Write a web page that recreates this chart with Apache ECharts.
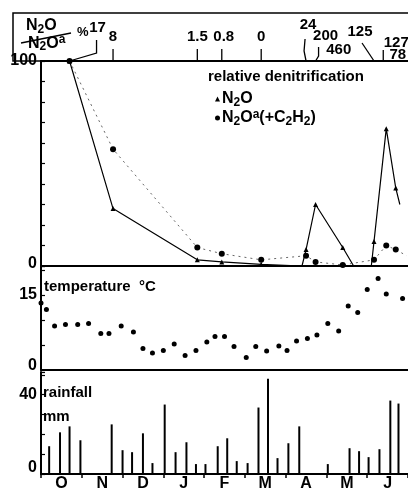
<!DOCTYPE html>
<html>
<head>
<meta charset="UTF-8">
<title>relative denitrification, temperature, rainfall</title>
<script src="https://cdn.jsdelivr.net/npm/echarts@6/dist/echarts.min.js"></script>
<style>
  html, body { margin: 0; padding: 0; background: #fff; }
  #chart { width: 408px; height: 492px; }
</style>
</head>
<body>
<div id="chart"></div>
<script>
// x values are days counted from 1 October
// sampling dates of the denitrification measurements
var sampleDays = [21, 53, 115, 133, 162, 195, 202, 222, 245, 254, 261];
var n2o = [100, 28, 3, 2, 0.8, 8, 30, 9, 12, 67, 38];
var n2oA = [100, 57, 9, 6, 3, 5, 2, 0.5, 3, 10, 8];
var ratioLabels = ['17', '8', '1.5', '0.8', '0', '24', '200', '460', '125', '127', '78'];

// extra corners of the traces (N2O running along zero, both running off the edge)
var n2oBendDays = [192, 230, 243, 264];
var n2oBendVals = [0, 0, 0, 30];
var n2oATailDays = [269];
var n2oATailVals = [5];

// weekly temperature
var tempDays = [0, 4, 10, 18, 27, 35, 44, 50, 59, 68, 75, 82, 90, 98, 106, 114, 122, 128,
  135, 142, 151, 158, 166, 175, 181, 188, 196, 203, 211, 219, 226, 233, 240, 248, 254, 266];
var tempVals = [13.4, 12.1, 8.8, 9.1, 9.1, 9.3, 7.3, 7.3, 8.8, 7.6, 4.3, 3.4, 3.9, 5.2, 2.9, 3.9, 5.6, 6.7,
  6.7, 4.7, 2.5, 4.7, 3.8, 4.8, 3.9, 5.8, 6.3, 7.0, 9.3, 7.8, 12.8, 11.5, 16.1, 18.3, 15.2, 14.3];

// weekly rainfall
var rainDays = [6, 14, 21, 29, 52, 60, 67, 75, 82, 91, 99, 107, 114, 121, 130, 137, 144, 152,
  160, 167, 174, 182, 190, 211, 227, 234, 241, 249, 257, 263];
var rainVals = [14, 21, 24, 17, 25, 12, 11, 20.5, 5.5, 35, 11, 16, 5, 5, 14, 18, 6.5, 5.5,
  33.5, 48, 8, 15.5, 24, 5, 13, 11.5, 8.5, 12.5, 37, 35.5];

var months = ['O', 'N', 'D', 'J', 'F', 'M', 'A', 'M', 'J'];

// where each ratio label and its leader sit, relative to its tick on the top axis
var ratioLayout = [
  { text: [28, -33], leader: [[0, 0], [27, -8], [27, -21]] },
  { text: [0, -24], leader: [[0, 0], [0, -12]] },
  { text: [0, -24], leader: [[0, 0], [0, -12]] },
  { text: [2, -24], leader: [[0, 0], [0, -12]] },
  { text: [0, -24], leader: [[0, 0], [0, -12]] },
  { text: [2, -36], leader: [[0, 0], [-2, -10], [-1, -22]] },
  { text: [10, -25], leader: [[0, 0], [3, -5], [3, -14]] },
  { text: [-4, -11], leader: [] },
  { text: [-14, -29], leader: [[0, 0], [-12, -18]] },
  { text: [10, -18], leader: [[-3, 0], [-3, -11]] },
  { text: [2, -6], leader: [] }
];

var FONT = '"Liberation Sans", Arial, sans-serif';

// rich text styles for chemical formulas: t normal, s subscript, u superscript
var chemRich = {
  t: { fontSize: 16, fontWeight: 'bold', fontFamily: FONT, color: '#000', lineHeight: 19, verticalAlign: 'middle' },
  s: { fontSize: 12, fontWeight: 'bold', fontFamily: FONT, color: '#000', verticalAlign: 'bottom' },
  u: { fontSize: 12, fontWeight: 'bold', fontFamily: FONT, color: '#000', verticalAlign: 'top' }
};
function chem(str) {
  // N2O -> {t|N}{s|2}{t|O}, ^a -> superscript
  var out = '';
  var i = 0;
  while (i < str.length) {
    var c = str[i];
    if (c === '_') { out += '{s|' + str[i + 1] + '}'; i += 2; }
    else if (c === '^') { out += '{u|' + str[i + 1] + '}'; i += 2; }
    else {
      var j = i;
      while (j < str.length && str[j] !== '_' && str[j] !== '^') j++;
      out += '{t|' + str.slice(i, j) + '}';
      i = j;
    }
  }
  return out;
}

function pairs(xs, ys) {
  return xs.map(function (x, i) { return [x, ys[i]]; });
}
function sortedPairs(a, b) {
  return a.concat(b).sort(function (p, q) { return p[0] - q[0]; });
}
function yLabel(list, shift) {
  return {
    color: '#000', fontSize: 16, fontWeight: 'bold', fontFamily: FONT, margin: 4,
    formatter: function (v) {
      if (v === 0) return '{z|0}';
      return list.indexOf(v) >= 0 ? String(v) : '';
    },
    rich: { z: { color: '#000', fontSize: 16, fontWeight: 'bold', fontFamily: FONT, padding: [0, 0, shift, 0] } }
  };
}

var black = { color: '#000', width: 2 };
var plainX = function (grid, pos) {
  return {
    type: 'value', gridIndex: grid, position: pos, min: 0, max: 270,
    axisLine: { show: true, onZero: false, lineStyle: black },
    axisTick: { show: false }, axisLabel: { show: false }, splitLine: { show: false }
  };
};
var titleStyle = { fontSize: 15, fontWeight: 'bold', fontFamily: FONT, color: '#000' };

var chart = echarts.init(document.getElementById('chart'));

var option = {
  animation: false,
  backgroundColor: '#fff',
  title: [
    { text: 'relative denitrification', left: 208, top: 69, padding: 0, textStyle: titleStyle },
    { text: 'temperature  °C', left: 44, top: 279, padding: 0, textStyle: titleStyle },
    { text: 'rainfall', left: 43, top: 385, padding: 0, textStyle: titleStyle },
    { text: 'mm', left: 43, top: 409, padding: 0, textStyle: titleStyle }
  ],
  legend: {
    orient: 'vertical', left: 215, top: 91, padding: 0,
    itemWidth: 5, itemHeight: 5, itemGap: 0, selectedMode: false,
    formatter: function (name) {
      return name === 'N2O' ? chem('N_2O') : chem('N_2O^a(+C_2H_2)');
    },
    textStyle: { color: '#000', padding: [0, 0, 0, -3], rich: chemRich },
    data: [
      { name: 'N2O', icon: 'triangle' },
      { name: 'N2Oa', icon: 'circle' }
    ]
  },
  graphic: [
    { type: 'rect', shape: { x: 13, y: 13, width: 400, height: 48 },
      style: { fill: null, stroke: '#000', lineWidth: 1.5 } },
    { type: 'text', left: 26, top: 18,
      style: { text: chem('N_2O'), rich: chemRich } },
    { type: 'text', left: 28, top: 34,
      style: { text: chem('N_2O^a'), rich: chemRich } },
    { type: 'line', shape: { x1: 21, y1: 43, x2: 71, y2: 33 },
      style: { stroke: '#000', lineWidth: 1.5 } },
    { type: 'text', left: 77, top: 26,
      style: { text: '%', font: 'bold 13px ' + FONT, fill: '#000' } }
  ],
  grid: [
    { left: 41, right: 0, top: 61, height: 205 },
    { left: 41, right: 0, top: 266, height: 104 },
    { left: 41, right: 0, top: 372, height: 104 }
  ],
  xAxis: [
    plainX(0, 'bottom'),
    plainX(0, 'top'),
    plainX(1, 'bottom'),
    { type: 'value', gridIndex: 2, position: 'bottom', min: 0, max: 270, show: false },
    {
      type: 'category', gridIndex: 2, position: 'bottom', data: months, boundaryGap: true,
      axisLine: { show: true, lineStyle: black },
      axisTick: { show: true, length: 4, lineStyle: { color: '#000', width: 1.5 } },
      axisLabel: { color: '#000', fontSize: 16, fontWeight: 'bold', fontFamily: FONT, margin: 2 },
      splitLine: { show: false }
    }
  ],
  yAxis: [
    {
      type: 'value', gridIndex: 0, min: 0, max: 100, interval: 10,
      axisLine: { show: true, lineStyle: black },
      axisTick: { show: true, inside: true, length: 4, lineStyle: { color: '#000', width: 1.2 } },
      axisLabel: yLabel([100], 5), splitLine: { show: false }
    },
    {
      type: 'value', gridIndex: 1, min: 0, max: 20.8, interval: 5,
      axisLine: { show: true, lineStyle: black },
      axisTick: { show: true, inside: true, length: 4, lineStyle: { color: '#000', width: 1.2 } },
      axisLabel: yLabel([15], 9), splitLine: { show: false }
    },
    {
      type: 'value', gridIndex: 2, min: 0, max: 51.4, interval: 10,
      axisLine: { show: true, lineStyle: black },
      axisTick: { show: true, inside: true, length: 4, lineStyle: { color: '#000', width: 1.2 } },
      axisLabel: yLabel([40], 12), splitLine: { show: false }
    }
  ],
  series: [
    {
      type: 'line', xAxisIndex: 0, yAxisIndex: 0, symbol: 'none',
      data: sortedPairs(pairs(sampleDays, n2o), pairs(n2oBendDays, n2oBendVals)),
      lineStyle: { color: '#000', width: 1.2 }
    },
    {
      type: 'line', xAxisIndex: 0, yAxisIndex: 0, symbol: 'none',
      data: sortedPairs(pairs(sampleDays, n2oA), pairs(n2oATailDays, n2oATailVals)),
      lineStyle: { color: '#666', width: 1, type: [2, 4] }
    },
    {
      name: 'N2O', type: 'scatter', xAxisIndex: 0, yAxisIndex: 0,
      symbol: 'triangle', symbolSize: 5, itemStyle: { color: '#000', opacity: 1 },
      data: pairs(sampleDays, n2o), z: 4
    },
    {
      name: 'N2Oa', type: 'scatter', xAxisIndex: 0, yAxisIndex: 0,
      symbol: 'circle', symbolSize: 6, itemStyle: { color: '#000', opacity: 1 },
      data: pairs(sampleDays, n2oA), z: 4
    },
    {
      type: 'custom', xAxisIndex: 1, yAxisIndex: 0, clip: false, silent: true,
      data: sampleDays.map(function (d, i) { return [d, i]; }),
      encode: { x: 0, y: 1 },
      renderItem: function (params, api) {
        var i = params.dataIndex;
        var p = api.coord([api.value(0), 100]);
        var lay = ratioLayout[i];
        var kids = [{
          type: 'text',
          style: {
            x: p[0] + lay.text[0], y: p[1] + lay.text[1], text: ratioLabels[i],
            align: 'center', verticalAlign: 'middle', font: 'bold 15px ' + FONT, fill: '#000'
          }
        }];
        if (lay.leader.length > 1) {
          kids.push({
            type: 'polyline',
            shape: { points: lay.leader.map(function (d) { return [p[0] + d[0], p[1] + d[1]]; }) },
            style: { stroke: '#000', lineWidth: 1.3, fill: null }
          });
        }
        return { type: 'group', children: kids };
      }
    },
    {
      type: 'scatter', xAxisIndex: 2, yAxisIndex: 1, symbol: 'circle', symbolSize: 5,
      itemStyle: { color: '#000', opacity: 1 }, data: pairs(tempDays, tempVals)
    },
    {
      type: 'bar', xAxisIndex: 3, yAxisIndex: 2, barWidth: 2,
      itemStyle: { color: '#000' }, data: pairs(rainDays, rainVals)
    }
  ]
};

chart.setOption(option);
</script>
</body>
</html>
